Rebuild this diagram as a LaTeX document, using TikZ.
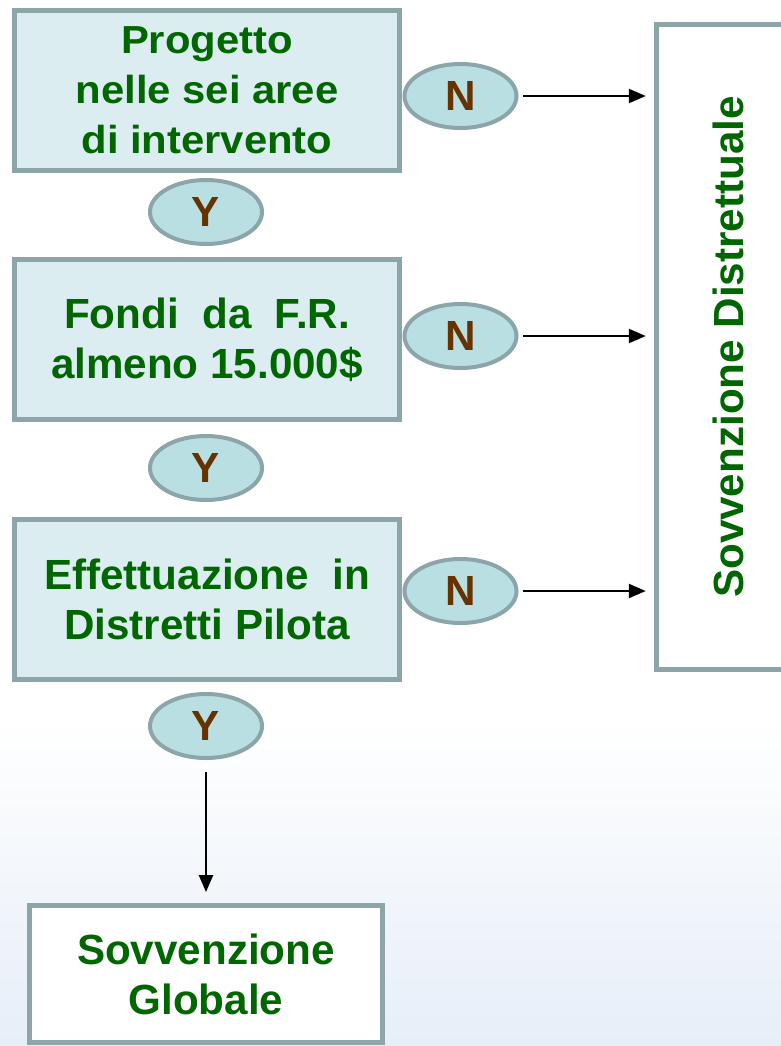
\documentclass[tikz,border=0pt]{standalone}
\usepackage{fontspec}
\setmainfont{Liberation Sans}
\newfontfamily\widefont[FakeStretch=1.07]{Liberation Sans}
\usetikzlibrary{positioning,shapes.geometric,arrows.meta}

\definecolor{boxfill}{HTML}{DBEDF0}
\definecolor{ovalfill}{HTML}{B9DFE3}
\definecolor{edgegray}{HTML}{8BA5A8}
\definecolor{textgreen}{HTML}{006600}
\definecolor{textbrown}{HTML}{663300}
\definecolor{bgblue}{HTML}{E6EEF8}

\begin{document}
\begin{tikzpicture}[x=0.025cm,y=-0.025cm,
    stepbox/.style={draw=edgegray,line width=0.125cm,fill=boxfill,
      minimum width=9.625cm,minimum height=4cm,inner sep=0pt,
      align=center,text=textgreen,
      font={\bfseries\fontsize{30}{35.6}\selectfont}},
    endbox/.style={stepbox,fill=white},
    answer/.style={ellipse,draw=edgegray,line width=0.1cm,fill=ovalfill,
      minimum width=2.8cm,minimum height=1.6cm,inner sep=0pt,
      text=textbrown,font={\bfseries\fontsize{30}{36}\selectfont}},
    arr/.style={-{Triangle[length=12pt,width=10pt]},line width=1.4pt}]
  %% Page and faint background.
  \useasboundingbox (0,0) rectangle (781,1046);
  \shade[top color=white,bottom color=bgblue] (0,720) rectangle (781,1046);

  % Questions on the left.
  \node[stepbox,font={\widefont\bfseries\fontsize{27.8}{35.6}\selectfont}]
    (b1) at (207,90.5) {Progetto\\nelle sei aree\\di intervento};
  \node[stepbox] (b2) at (207,339.5) {Fondi\ \ da\ \ F.R.\\almeno 15.000\$};
  \node[stepbox] (b3) at (207,599.5) {Effettuazione\ \ in\\Distretti Pilota};

  % Yes / no answers.
  \foreach \i/\ypos in {1/212,2/468,3/726} {
    \node[answer] (y\i) at (206,\ypos) {Y};
  }
  \foreach \i/\ypos in {1/96,2/336,3/591} {
    \node[answer] (n\i) at (460.5,\ypos) {N};
  }

  % Outcomes.
  \node[endbox,rotate=90,minimum width=16.125cm,minimum height=3.5875cm]
    (dist) at (728,347) {Sovvenzione Distrettuale};
  \node[endbox,minimum width=8.8cm,minimum height=3.425cm]
    (glob) at (206,974) {Sovvenzione\\Globale};

  % Connectors.
  \foreach \n in {n1,n2,n3} {
    \draw[arr,shorten <=3.5pt,shorten >=5.7pt] (\n.east) -- (\n.east -| dist.north);
  }
  \draw[arr,shorten <=8.5pt,shorten >=7.8pt] (y3.south) -- (glob.north);
\end{tikzpicture}
\end{document}
